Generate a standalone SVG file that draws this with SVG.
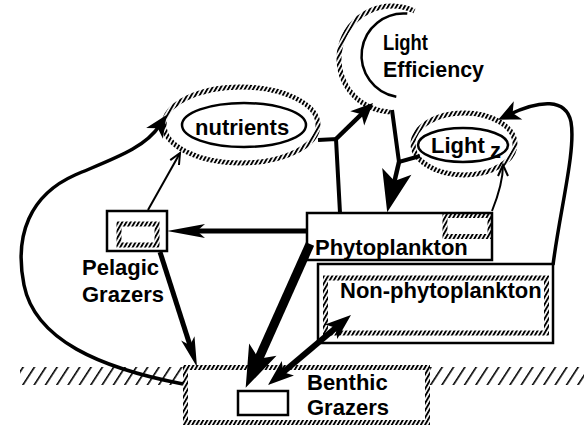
<svg xmlns="http://www.w3.org/2000/svg" width="584" height="432" viewBox="0 0 584 432">
<style>
text{font-family:"Liberation Sans",Arial,Helvetica,sans-serif;font-weight:bold;font-size:22px;fill:#000}
.box{fill:#fff;stroke:#000;stroke-width:2.5}
.plain{fill:none;stroke:#000;stroke-width:2.5}
.hatch{fill:none;stroke:url(#hp);stroke-width:5}
.hatchw{fill:#fff;stroke:url(#hp);stroke-width:5}
.ln{fill:none;stroke:#000;stroke-linecap:butt;stroke-linejoin:miter}
</style>
<defs>
<pattern id="hp" patternUnits="userSpaceOnUse" width="3.6" height="10" patternTransform="rotate(30)">
<rect x="0" y="0" width="1.9" height="10" fill="#000"/>
</pattern>
<pattern id="gp" patternUnits="userSpaceOnUse" width="9.5" height="20" patternTransform="rotate(33)">
<rect x="0" y="0" width="1.6" height="20" fill="#000"/>
</pattern>
<marker id="hOpen" markerUnits="userSpaceOnUse" markerWidth="20" markerHeight="20" refX="11" refY="5" orient="auto" overflow="visible">
<path d="M0,0 L11,5 L0,10" fill="none" stroke="#000" stroke-width="2"/>
</marker>
<marker id="hChev" markerUnits="userSpaceOnUse" markerWidth="30" markerHeight="30" refX="10" refY="10" orient="auto" overflow="visible">
<path d="M0,0 L22,10 L0,20 L6,10 z" fill="#000"/>
</marker>
<marker id="hMed" markerUnits="userSpaceOnUse" markerWidth="40" markerHeight="20" refX="12" refY="7" orient="auto" overflow="visible">
<path d="M0,0 L30,7 L0,14 L7,7 z" fill="#000"/>
</marker>
<marker id="hLong" markerUnits="userSpaceOnUse" markerWidth="50" markerHeight="20" refX="16" refY="7" orient="auto" overflow="visible">
<path d="M0,0 L38,7 L0,14 L8,7 z" fill="#000"/>
</marker>
<marker id="hBig" markerUnits="userSpaceOnUse" markerWidth="50" markerHeight="40" refX="14" refY="15" orient="auto" overflow="visible">
<path d="M0,0 L42,15 L0,30 L10,15 z" fill="#000"/>
</marker>
<marker id="hDbl" markerUnits="userSpaceOnUse" markerWidth="40" markerHeight="30" refX="12" refY="9.5" orient="auto-start-reverse" overflow="visible">
<path d="M0,0 L26,9.5 L0,19 L6,9.5 z" fill="#000"/>
</marker>
</defs>
<rect width="584" height="432" fill="#fff"/>

<g id="sediment">
<rect x="20" y="367" width="163" height="18" fill="url(#gp)"/>
<rect x="430" y="367" width="154" height="18" fill="url(#gp)"/>
</g>

<g id="nutrients">
<ellipse class="hatch" cx="241" cy="125" rx="77" ry="38"/>
<ellipse class="plain" cx="244" cy="125" rx="62" ry="22"/>
<text x="195" y="135">nutrients</text>
</g>

<g id="light-efficiency">
<path class="hatch" d="M390.2,111.9 A53,53 0 1 1 414.4,10.9"/>
<path class="plain" d="M396.3,96.8 A42,42 0 0 1 407.3,13.6"/>
<text x="383" y="50" font-size="21" textLength="45" lengthAdjust="spacingAndGlyphs">Light</text>
<text x="383" y="77" font-size="21" textLength="101" lengthAdjust="spacingAndGlyphs">Efficiency</text>
</g>

<g id="light-z">
<ellipse class="hatch" cx="464" cy="144" rx="51" ry="31"/>
<ellipse class="plain" cx="463" cy="145" rx="45" ry="17"/>
<text x="431" y="153" font-size="21">Light</text>
<text x="490" y="158" font-size="12">z</text>
</g>

<g id="phytoplankton">
<rect class="box" x="307" y="213" width="185" height="47"/>
<rect class="hatch" x="445" y="215.5" width="45" height="21"/>
<text x="315" y="255">Phytoplankton</text>
</g>

<g id="non-phytoplankton">
<rect class="box" x="318" y="264" width="235" height="79"/>
<rect class="hatch" x="325.5" y="278" width="221" height="55"/>
<text x="340" y="298" font-size="21">Non-phytoplankton</text>
</g>

<g id="pelagic-grazers">
<rect class="box" x="107" y="211" width="60" height="40"/>
<rect class="hatch" x="119" y="224" width="38" height="21"/>
<text x="82" y="275">Pelagic</text>
<text x="82" y="302">Grazers</text>
</g>

<g id="benthic-grazers">
<rect class="hatchw" x="185.5" y="367.5" width="242" height="55"/>
<rect class="box" x="238" y="391" width="50" height="24"/>
<text x="307" y="390">Benthic</text>
<text x="307" y="415">Grazers</text>
</g>

<g id="connectors">
<path class="ln" stroke-width="3.5" d="M183,384 C100,368 35,340 24,285 C14,235 30,195 75,175 C115,158 145,148 160,125" marker-end="url(#hChev)"/>
<path class="ln" stroke-width="2" d="M148,210 L180,153" marker-end="url(#hOpen)"/>
<path class="ln" stroke-width="5" d="M160,252 L191.5,349.9" marker-end="url(#hMed)"/>
<path class="ln" stroke-width="5" d="M307,231 L189,231" marker-end="url(#hLong)"/>
<path class="ln" stroke-width="9" d="M310,244 L257.1,362.3" marker-end="url(#hBig)"/>
<path class="ln" stroke-width="6" d="M278.7,376 L340.3,324" marker-start="url(#hDbl)" marker-end="url(#hDbl)"/>
<path class="ln" stroke-width="4" d="M318,140 L336,139 L340,213"/>
<path class="ln" stroke-width="4.5" d="M336,139 L364.4,111.4" marker-end="url(#hChev)"/>
<path class="ln" stroke-width="4" d="M392,110 L399,162 L420,156"/>
<path class="ln" stroke-width="4.5" d="M399,162 L393.6,185" marker-end="url(#hBig)"/>
<path class="ln" stroke-width="2" d="M492,211 C498,196 503,180 503,165" marker-end="url(#hOpen)"/>
<path class="ln" stroke-width="3.5" d="M553,265 C560,210 576,150 571,122 C566,98 540,100 509,114.6" marker-end="url(#hChev)"/>
</g>
</svg>
